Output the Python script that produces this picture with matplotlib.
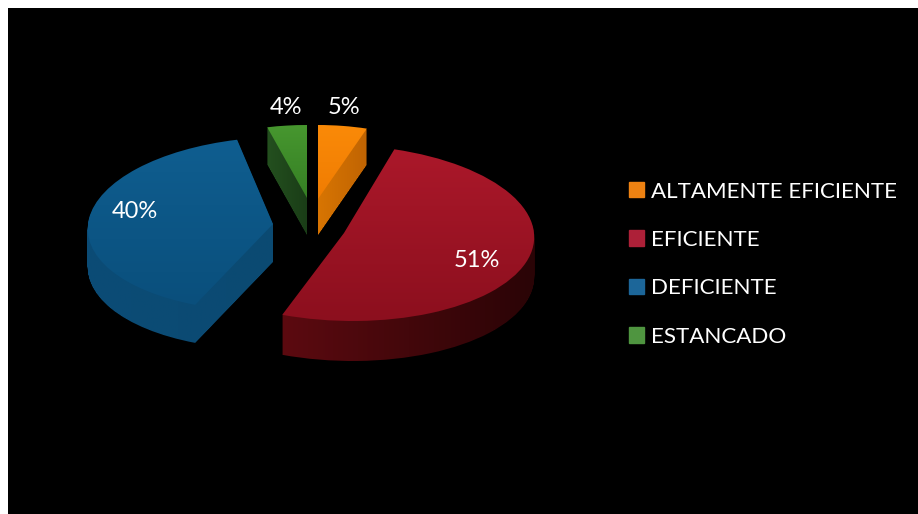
import numpy as np
import matplotlib
matplotlib.use('Agg')
import matplotlib.pyplot as plt
from matplotlib.patches import Patch
from matplotlib.path import Path
from matplotlib.transforms import Affine2D
from matplotlib.colors import LinearSegmentedColormap

plt.rcParams['font.family'] = ['Lato', 'Open Sans', 'DejaVu Sans']

categorias = ['ALTAMENTE EFICIENTE', 'EFICIENTE', 'DEFICIENTE', 'ESTANCADO']
valores = [5, 51, 40, 4]

# estilo de cada porcion: cx, cy, rx, ry, skew, fondo
geometria = [
    (318, 199, 158, 74, 0.0, 36),
    (344, 233, 190, 88, 0.1, 40),
    (273, 224, 185, 87, -0.12, 38),
    (307, 198, 160, 73, 0.0, 37),
]
cara_colores = [('#fa8a08', '#f07c02'), ('#ab182a', '#8c0f1e'),
                ('#0f5e90', '#0a4f7c'), ('#47972f', '#357f24')]
lado_colores = [('#d87502', '#c06402'), ('#5c0a10', '#2a0406'),
                ('#0b4c76', '#0b4a72'), ('#24501f', '#1a3d17')]
leyenda_colores = ['#ee8212', '#ad2038', '#1c6699', '#4f9540']
pos_textos = [(344, 108), (477, 261), (135, 212), (286, 107)]

fig = plt.figure(figsize=(9.18, 5.14), dpi=100, facecolor='white')
ax = fig.add_axes([8 / 918, 0, 910 / 918, 506 / 514], facecolor='black')

wedges, _ = ax.pie(valores, startangle=90, counterclock=False, radius=1)
ax.set_frame_on(True)
ax.patch.set_facecolor('black')
for s in ax.spines.values():
    s.set_visible(False)


def gradiente(c1, c2, vertical, extent, clip_path, trans, z):
    cmap = LinearSegmentedColormap.from_list('g', [c1, c2])
    g = np.linspace(0, 1, 256)
    g = g[:, None] if vertical else g[None, :]
    im = ax.imshow(g, cmap=cmap, extent=extent, aspect='auto', zorder=z, origin='upper')
    im.set_clip_path(clip_path, trans)


for i, w in enumerate(wedges):
    cx, cy, rx, ry, skew, fondo = geometria[i]
    # y hacia abajo en pixeles
    m = Affine2D(np.array([[rx, -skew * ry, cx], [0, -ry, cy], [0, 0, 1]], dtype=float))
    arriba = m.transform_path(w.get_path())
    capas = [arriba.transformed(Affine2D().translate(0, d)) for d in range(1, fondo + 1)]
    lado = Path.make_compound_path(*capas)
    x0, y0 = arriba.vertices.min(axis=0)
    x1, y1 = arriba.vertices.max(axis=0)
    ext_lado = (x0, x1, y1 + fondo, y0)
    gradiente(lado_colores[i][0], lado_colores[i][1], False, ext_lado, lado, ax.transData, 2)
    gradiente(cara_colores[i][0], cara_colores[i][1], True, (x0, x1, y1, y0), arriba, ax.transData, 3)
    w.set_visible(False)

for v, (x, y) in zip(valores, pos_textos):
    ax.text(x, y, f'{v}%', color='white', fontsize=17, ha='center', va='center', zorder=5)

handles = [Patch(facecolor=c, edgecolor=c) for c in leyenda_colores]
leg = ax.legend(handles, categorias, loc='upper left', bbox_to_anchor=(0.682, 0.657),
                frameon=False, fontsize=16.1, labelcolor='white', handlelength=0.69,
                handleheight=0.69, handletextpad=0.32, labelspacing=1.27, borderpad=0, borderaxespad=0)

ax.set_aspect('auto')
ax.set_xlim(8, 918)
ax.set_ylim(514, 8)

fig.savefig('out.png', dpi=100, facecolor='white')
